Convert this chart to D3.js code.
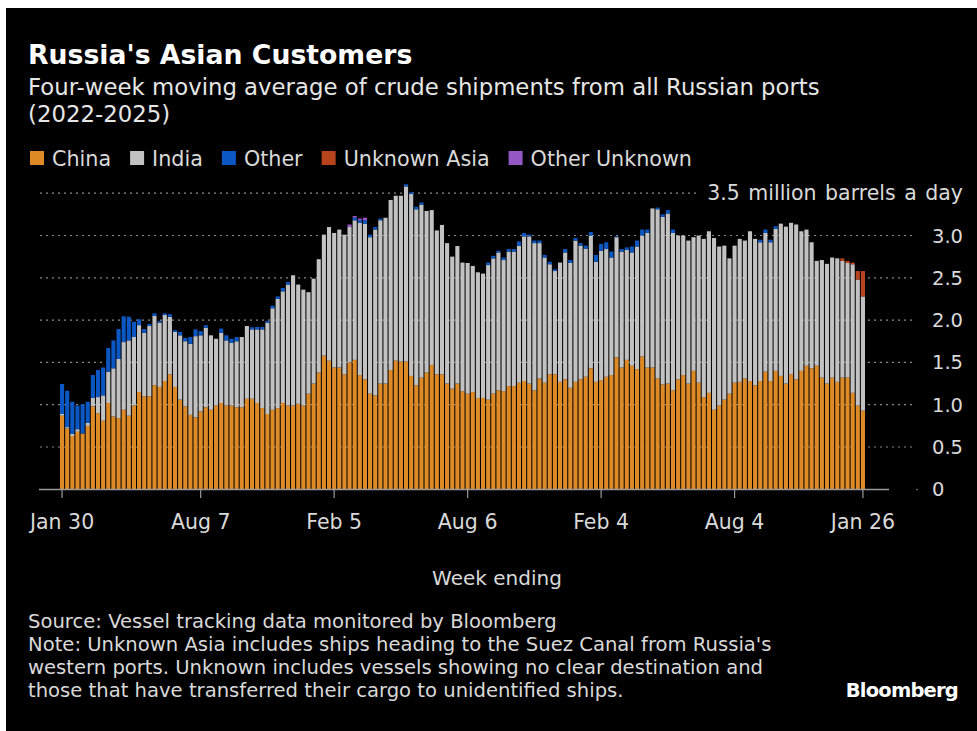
<!DOCTYPE html>
<html>
<head>
<meta charset="utf-8">
<script src="https://cdn.jsdelivr.net/npm/d3@7"></script>
<style>
  body { margin: 0; background: #fff; }
  svg { display: block; font-family: "DejaVu Sans", sans-serif; }
</style>
</head>
<body>
<svg id="chart" width="977" height="731"></svg>
<script>
// weekly categories, Jan 30 2022 .. Jan 26 2025
const firstWeek = new Date(2022, 0, 30);
const lastWeek = new Date(2025, 0, 26);
const weeks = d3.timeWeek.range(firstWeek, d3.timeDay.offset(lastWeek, 1));

const seriesNames = ['China', 'India', 'Other', 'Unknown Asia', 'Other Unknown'];
const seriesColors = ['#de8a26', '#c2c2c2', '#0b57c4', '#b8441e', '#9457c4'];

const china = [
  .87,.72,.63,.68,.66,.75,.98,.90,.81,1.02,
  .86,.84,.94,.87,.99,1.15,1.10,1.10,1.23,1.21,
  1.28,1.36,1.21,1.06,.98,.88,.85,.92,.97,.94,
  .99,1.02,.99,.99,.97,.97,1.07,1.07,1.02,.96,
  .89,.94,.96,1.02,.99,.99,1.01,.99,1.13,1.25,
  1.38,1.58,1.52,1.44,1.44,1.36,1.50,1.53,1.35,1.30,
  1.13,1.11,1.25,1.25,1.41,1.52,1.51,1.51,1.34,1.23,
  1.32,1.38,1.47,1.36,1.36,1.25,1.19,1.25,1.16,1.13,
  1.15,1.08,1.08,1.06,1.13,1.17,1.16,1.22,1.22,1.26,
  1.28,1.25,1.17,1.31,1.26,1.36,1.36,1.27,1.30,1.20,
  1.27,1.30,1.33,1.43,1.27,1.29,1.33,1.35,1.56,1.44,
  1.53,1.46,1.42,1.57,1.44,1.44,1.31,1.24,1.25,1.17,
  1.30,1.35,1.25,1.40,1.26,1.09,1.14,.94,.99,1.06,
  1.13,1.26,1.27,1.31,1.28,1.23,1.28,1.39,1.28,1.40,
  1.34,1.25,1.36,1.30,1.40,1.46,1.43,1.46,1.32,1.25,
  1.32,1.27,1.32,1.32,1.14,.99,.93
];
const india = [
  .02,.015,.025,.03,0,.035,.10,.19,.30,.37,
  .57,.70,.80,.89,.81,.79,.75,.83,.82,.76,
  .78,.68,.65,.76,.77,.84,.96,.90,.94,.88,
  .79,.83,.77,.74,.78,.83,.86,.82,.87,.93,
  1.08,1.20,1.29,1.32,1.43,1.54,1.41,1.37,1.20,1.24,
  1.34,1.43,1.58,1.59,1.63,1.65,1.60,1.65,1.80,1.84,
  1.85,1.96,1.93,1.96,2.01,1.95,1.96,2.07,2.15,2.08,
  2.045,1.91,1.83,1.70,1.765,1.66,1.56,1.625,1.52,1.545,
  1.49,1.485,1.47,1.59,1.60,1.63,1.55,1.59,1.59,1.62,
  1.71,1.74,1.74,1.60,1.48,1.30,1.22,1.41,1.50,1.475,
  1.67,1.58,1.515,1.57,1.42,1.53,1.51,1.39,1.42,1.37,
  1.30,1.34,1.45,1.43,1.59,1.88,2.00,1.98,2.01,1.86,
  1.70,1.65,1.69,1.58,1.74,1.87,1.91,2.03,1.88,1.82,
  1.60,1.62,1.69,1.63,1.77,1.73,1.64,1.64,1.64,1.68,
  1.80,1.855,1.79,1.83,1.65,1.61,1.49,1.24,1.39,1.415,
  1.42,1.46,1.38,1.355,1.52,1.49,1.35
];
const other = [
  .355,.43,.38,.28,.345,.25,.27,.32,.33,.28,
  .33,.355,.305,.28,.18,.07,.045,.024,.03,.02,
  .02,.03,.02,.04,.04,.08,.08,.05,.03,0,
  0,.05,.06,.05,.05,0,0,.025,.03,.03,
  .02,.03,.03,.04,.03,0,0,0,0,0,
  0,0,0,0,0,0,0,.03,.03,.04,
  .03,.03,.02,0,0,0,0,.025,.02,.03,
  .025,0,0,0,0,0,0,0,0,0,
  0,0,0,.03,.03,.02,.03,.03,.03,.05,
  .04,.02,.03,.03,.03,.03,.02,0,.04,.035,
  .03,.03,.035,.04,.08,.08,.08,.07,.01,.03,
  .03,.07,.07,.07,.04,0,.02,.03,.04,.04,
  0,0,0,0,0,0,0,0,0,0,
  0,0,0,0,0,0,.03,.04,.03,.03,
  0,0,0,0,0,0,0,0,0,0,
  0,0,0,0,0,0,0
];
const unknownAsia = [
  0,0,0,0,0,0,0,0,0,0, 0,0,0,0,0,0,0,0,0,0,
  0,0,0,0,0,0,0,0,0,0, 0,0,0,0,0,0,0,0,0,0,
  0,0,0,0,0,0,0,0,0,0, 0,0,0,0,0,0,0,0,0,0,
  0,0,0,0,0,0,0,0,0,0, 0,0,0,0,0,0,0,0,0,0,
  0,0,0,0,0,0,0,0,0,0, 0,0,0,0,0,0,0,0,0,0,
  0,0,0,0,0,0,0,0,0,0, 0,0,0,0,0,0,0,0,0,0,
  0,0,0,0,0,0,0,0,0,0, 0,0,0,0,0,0,0,0,0,0,
  0,0,0,0,0,0,0,0,0,0, 0,0,.03,.025,.02,.10,.30
];
const otherUnknown = [
  0,0,0,0,0,0,0,0,0,0, 0,0,0,0,0,0,0,0,0,0,
  0,0,0,0,0,0,0,0,0,0, 0,0,0,0,0,0,0,0,0,0,
  0,0,0,0,0,0,0,0,0,0, 0,0,0,0,0,0,.03,.02,.02,.03,
  0,0,0,0,0,0,0,0,0,0, 0,0,0,0,0,0,0,0,0,0,
  0,0,0,0,0,0,0,0,0,0, 0,0,0,0,0,0,0,0,0,0,
  0,0,0,0,0,0,0,0,0,0, 0,0,0,0,0,0,0,0,0,0,
  0,0,0,0,0,0,0,0,0,0, 0,0,0,0,0,0,0,0,0,0,
  0,0,0,0,0,0,0,0,0,0, 0,0,0,0,0,0,0
];

const yTicks = [0, 0.5, 1.0, 1.5, 2.0, 2.5, 3.0, 3.5];
const xTickLabels = ['Jan 30', 'Aug 7', 'Feb 5', 'Aug 6', 'Feb 4', 'Aug 4', 'Jan 26'];
const xTickDates = [
  new Date(2022, 0, 30), new Date(2022, 7, 7), new Date(2023, 1, 5),
  new Date(2023, 7, 6), new Date(2024, 1, 4), new Date(2024, 7, 4),
  new Date(2025, 0, 26)
];

const rows = weeks.map((w, i) => ({
  week: w,
  'China': china[i],
  'India': india[i],
  'Other': other[i],
  'Unknown Asia': unknownAsia[i],
  'Other Unknown': otherUnknown[i]
}));

const svg = d3.select('#chart');

// black card
svg.append('rect')
  .attr('x', 6).attr('y', 8)
  .attr('width', 971).attr('height', 723)
  .attr('fill', '#000');

// header
svg.append('text')
  .attr('x', 28).attr('y', 64)
  .attr('fill', '#fff')
  .attr('font-size', 26.7).attr('font-weight', 'bold')
  .text("Russia's Asian Customers");

svg.append('text')
  .attr('x', 28).attr('y', 95)
  .attr('fill', '#e6e6e6')
  .attr('font-size', 22.8)
  .text('Four-week moving average of crude shipments from all Russian ports');
svg.append('text')
  .attr('x', 28).attr('y', 122)
  .attr('fill', '#e6e6e6')
  .attr('font-size', 22.8)
  .text('(2022-2025)');

// legend
const legend = svg.append('g').attr('transform', 'translate(30,158)');
let lx = 0;
seriesNames.forEach((name, i) => {
  const g = legend.append('g').attr('transform', 'translate(' + lx + ',0)');
  g.append('rect')
    .attr('x', 0).attr('y', -7)
    .attr('width', 14).attr('height', 14)
    .attr('fill', seriesColors[i]);
  const t = g.append('text')
    .attr('x', 22).attr('y', 7.5)
    .attr('fill', '#d9d9d9')
    .attr('font-size', 20.7)
    .text(name);
  lx += 22 + t.node().getComputedTextLength() + 19;
});

// scales
const x = d3.scaleBand()
  .domain(weeks.map(d => +d))
  .range([59.5, 865.5])
  .paddingInner(0.2)
  .paddingOuter(0.1);

const y = d3.scaleLinear()
  .domain([0, 3.5])
  .range([489.3, 193.2]);

// gridlines
const grid = svg.append('g');
grid.selectAll('line').data(yTicks.filter(d => d > 0))
  .join('line')
  .attr('x1', 40)
  .attr('x2', d => d === 3.5 ? 700 : 914)
  .attr('y1', d => y(d)).attr('y2', d => y(d))
  .attr('stroke', '#8a8a8a')
  .attr('stroke-width', 1.2)
  .attr('stroke-dasharray', '2,4');

// y labels
svg.append('g').selectAll('text').data(yTicks)
  .join('text')
  .attr('x', d => d === 3.5 ? 963 : 932)
  .attr('y', d => y(d) + 7)
  .attr('text-anchor', d => d === 3.5 ? 'end' : 'start')
  .attr('fill', '#d9d9d9')
  .attr('font-size', d => d === 3.5 ? 20.5 : 19.5)
  .attr('word-spacing', d => d === 3.5 ? 2 : 0)
  .text(d => d === 3.5 ? '3.5 million barrels a day' : d === 0 ? '0' : d.toFixed(1));

// stacked bars
const stack = d3.stack().keys(seriesNames);
const layers = stack(rows);

svg.append('g').selectAll('g').data(layers)
  .join('g')
  .attr('fill', (d, i) => seriesColors[i])
  .selectAll('rect').data(d => d)
  .join('rect')
  .attr('x', d => x(+d.data.week))
  .attr('width', x.bandwidth())
  .attr('y', d => y(d[1]))
  .attr('height', d => Math.max(0, y(d[0]) - y(d[1])));

// x axis
svg.append('line')
  .attr('x1', 39).attr('x2', 889)
  .attr('y1', 489.5).attr('y2', 489.5)
  .attr('stroke', '#9a9a9a')
  .attr('stroke-width', 1.5);
svg.append('circle')
  .attr('cx', 917).attr('cy', 489.5).attr('r', 0.8)
  .attr('fill', '#8a8a8a');

const xt = svg.append('g').selectAll('g').data(xTickDates)
  .join('g')
  .attr('transform', d => 'translate(' + (x(+d) + x.bandwidth() / 2) + ',0)');
xt.append('line')
  .attr('y1', 490).attr('y2', 498)
  .attr('stroke', '#9a9a9a')
  .attr('stroke-width', 1.2);
xt.append('text')
  .attr('y', 529)
  .attr('text-anchor', 'middle')
  .attr('fill', '#d9d9d9')
  .attr('font-size', 20.5)
  .text((d, i) => xTickLabels[i]);

svg.append('text')
  .attr('x', 497).attr('y', 585)
  .attr('text-anchor', 'middle')
  .attr('fill', '#d9d9d9')
  .attr('font-size', 20)
  .text('Week ending');

// footer
const notes = [
  'Source: Vessel tracking data monitored by Bloomberg',
  "Note: Unknown Asia includes ships heading to the Suez Canal from Russia's",
  'western ports. Unknown includes vessels showing no clear destination and',
  'those that have transferred their cargo to unidentified ships.'
];
svg.append('g').selectAll('text').data(notes)
  .join('text')
  .attr('x', 28)
  .attr('y', (d, i) => 628 + i * 23)
  .attr('fill', '#d9d9d9')
  .attr('font-size', 19.6)
  .text(d => d);

svg.append('text')
  .attr('x', 958).attr('y', 697)
  .attr('text-anchor', 'end')
  .attr('fill', '#fff')
  .attr('font-size', 19.5)
  .attr('font-weight', 'bold')
  .attr('letter-spacing', -0.8)
  .text('Bloomberg');
</script>
</body>
</html>
